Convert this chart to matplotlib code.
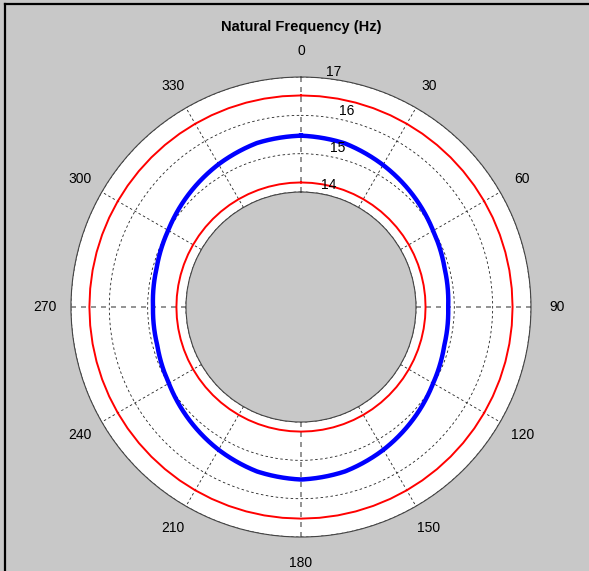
import numpy as np
import matplotlib.pyplot as plt
from matplotlib.lines import Line2D

plt.rcParams['font.family'] = ['Liberation Sans', 'DejaVu Sans']

# blue curve: natural frequency read every 15 degrees
angles_deg = [0, 15, 30, 45, 60, 75, 90, 105, 120, 135, 150, 165,
              180, 195, 210, 225, 240, 255, 270, 285, 300, 315, 330, 345, 360]
freq = [15.47, 15.42, 15.28, 15.13, 14.98, 14.88, 14.84, 14.87, 14.98, 15.14, 15.30, 15.44,
        15.50, 15.44, 15.30, 15.14, 14.98, 14.88, 14.86, 14.90, 15.00, 15.15, 15.30, 15.43, 15.47]
# red limit circles
lower_limit = 14.25
upper_limit = 16.52
r_ticks = [14, 15, 16, 17]
theta_ticks = list(range(0, 360, 30))

bg = '#c8c8c8'
fig = plt.figure(figsize=(5.89, 5.71), dpi=100, facecolor=bg)
ax = fig.add_axes([0.1205, 0.0595, 0.781, 0.8056], projection='polar')
ax.set_facecolor('white')
ax.set_theta_zero_location('N')
ax.set_theta_direction(-1)
ax.set_rorigin(11)
ax.set_rlim(14, 17)

full = np.linspace(0, 2 * np.pi, 73)
ax.plot(full, np.full_like(full, upper_limit), color='red', lw=1.4)
ax.plot(full, np.full_like(full, lower_limit), color='red', lw=1.4)
blue, = ax.plot(np.deg2rad(angles_deg), freq, color='blue', lw=3.2)
# draw segments as arcs in polar space
blue.get_path()._interpolation_steps = 30

ax.set_xticks(np.deg2rad(theta_ticks))
ax.set_xticklabels([str(t) for t in theta_ticks], fontsize=10)
ax.tick_params(axis='x', pad=8)
ax.set_yticks(r_ticks)
ax.set_yticklabels([])
ax.grid(True, color='#222222', lw=0.6, linestyle=(0, (3, 3)))
for i, gl in enumerate(ax.xaxis.get_gridlines()):
    if theta_ticks[i] % 90 == 0:
        gl.set_color('#808080')
        gl.set_linewidth(1.2)

for name in ['polar', 'inner']:
    ax.spines[name].set_color('#444444')
    ax.spines[name].set_linewidth(0.8)

for v in r_ticks:
    ang = 8 if v == 17 else 13
    off = 0.18 if v == 17 else 0.26
    ax.text(np.deg2rad(ang), v + off, str(v), fontsize=10,
            ha='center', va='center', clip_on=False)

fig.text(0.511, 0.953, 'Natural Frequency (Hz)', fontsize=10.5, fontweight='bold',
         ha='center', va='center')

# frame lines on the left and top
fig.add_artist(Line2D([0.0085, 0.0085], [0, 0.993], color='black', lw=1.6))
fig.add_artist(Line2D([0.0085, 1.0], [0.993, 0.993], color='black', lw=1.6))

fig.savefig('out.png', dpi=100, facecolor=bg)
